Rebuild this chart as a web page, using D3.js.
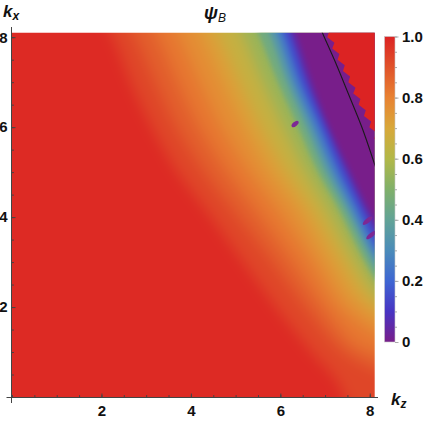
<!DOCTYPE html>
<html>
<head>
<meta charset="utf-8">
<script src="https://cdn.jsdelivr.net/npm/d3@7"></script>
<style>
  body { margin: 0; background: #fff; }
  svg { display: block; }
  text { font-family: "Liberation Sans", Arial, sans-serif; }
</style>
</head>
<body>
<div id="chart"></div>
<script>
// iso-lines of psi_B, as [kz, kx] pairs (run a bit past the frame)
var levels = [0.95, 0.9, 0.85, 0.8, 0.75, 0.7, 0.6, 0.5, 0.4, 0.3, 0.2, 0.1, 0];
var iso95 = [[1.8,8.6],[2.2,8.1],[2.65,7.0],[3.1,6.05],[3.7,5.0],[4.3,4.2],[5.1,3.1],[5.9,2.0],[6.7,1.0],[7.3,0.3],[7.6,-0.5]];
var iso90 = [[2.35,8.6],[2.7,8.1],[3.2,7.0],[3.65,6.05],[4.3,5.0],[4.9,4.2],[5.75,3.1],[6.55,2.0],[7.4,1.0],[8.11,0.6],[8.6,0.4]];
var iso85 = [[2.85,8.6],[3.2,8.1],[3.7,7.0],[4.15,6.05],[4.8,5.0],[5.4,4.2],[6.2,3.1],[6.95,2.0],[7.65,1.15],[8.11,0.95],[8.6,0.75]];
var iso80 = [[3.4,8.6],[3.7,8.1],[4.2,7.0],[4.65,6.05],[5.3,5.0],[5.9,4.2],[6.65,3.1],[7.3,2.05],[7.8,1.6],[8.11,1.4],[8.6,1.1]];
var iso75 = [[3.9,8.6],[4.2,8.1],[4.7,7.0],[5.15,6.05],[5.75,5.0],[6.35,4.2],[7.0,3.1],[7.6,2.15],[8.11,1.75],[8.6,1.4]];
var iso70 = [[4.3,8.6],[4.6,8.1],[5.1,7.0],[5.55,6.05],[6.15,5.0],[6.7,4.2],[7.35,3.1],[7.85,2.3],[8.11,2.05],[8.6,1.6]];
var iso60 = [[4.88,8.6],[5.15,8.1],[5.62,7.0],[6.07,6.05],[6.6,5.0],[7.08,4.2],[7.62,3.2],[8.11,2.4],[8.6,1.8]];
var iso50 = [[5.25,8.6],[5.5,8.1],[5.95,7.0],[6.38,6.05],[6.85,5.0],[7.3,4.2],[7.8,3.2],[8.11,2.65],[8.6,2.0]];
var iso40 = [[5.5,8.6],[5.75,8.1],[6.15,7.0],[6.57,6.05],[7.02,5.0],[7.45,4.2],[7.9,3.3],[8.11,2.9],[8.6,2.2]];
var iso30 = [[5.7,8.6],[5.92,8.1],[6.3,7.0],[6.72,6.05],[7.17,5.0],[7.58,4.2],[8.11,3.15],[8.6,2.5]];
var iso20 = [[5.85,8.6],[6.07,8.1],[6.45,7.0],[6.87,6.05],[7.32,5.0],[7.72,4.2],[8.11,3.4],[8.6,2.7]];
var iso10 = [[6.0,8.6],[6.22,8.1],[6.6,7.0],[7.0,6.05],[7.47,5.0],[7.86,4.2],[8.11,3.72],[8.6,3.0]];
var iso00 = [[6.13,8.6],[6.35,8.1],[6.72,7.0],[7.09,6.05],[7.58,5.0],[7.97,4.2],[8.11,3.95],[8.6,3.2]];
var isoLines = [iso95, iso90, iso85, iso80, iso75, iso70, iso60, iso50, iso40, iso30, iso20, iso10, iso00];

// where psi_B jumps back to 1 (top right corner): tooth tips and notches of the jagged edge
var redEdge = [[6.81,8.5],[6.97,8.375],[6.93,8.25],[7.09,8.125],[7.05,8.0],[7.21,7.875],[7.16,7.75],[7.32,7.625],
               [7.28,7.5],[7.44,7.375],[7.4,7.25],[7.56,7.125],[7.52,7.0],[7.68,6.875],[7.63,6.75],[7.79,6.625],
               [7.75,6.5],[7.91,6.375],[7.87,6.25],[8.03,6.125],[7.99,6.0],[8.15,5.875],[8.1,5.75],[8.26,5.625],[8.22,5.5]];
var blackCurve = [[6.88,8.25],[6.94,8.1],[7.22,7.47],[7.53,6.72],[7.83,5.98],[8.11,5.17],[8.2,4.9]];
var blobs = [[6.33,6.07],[7.95,3.92],[8.03,3.6]];

var xTicks = [2, 4, 6, 8];
var yTicks = [2, 4, 6, 8];
var minorTicks = d3.range(0, 8.01, 0.5);
var barTicks = [0, 0.2, 0.4, 0.6, 0.8, 1];
var barLabels = ["0", "0.2", "0.4", "0.6", "0.8", "1.0"];

var width = 432, height = 421;

var x = d3.scaleLinear().domain([0, 8.11]).range([12, 374.7]);
var y = d3.scaleLinear().domain([0, 8.1]).range([397, 32.7]);

// Mathematica-like "Rainbow"
var color = d3.scaleLinear()
    .domain([0, 0.1, 0.2, 0.3, 0.4, 0.5, 0.6, 0.7, 0.8, 0.9, 1])
    .range(["rgb(120,30,138)", "rgb(72,52,195)", "rgb(62,102,210)", "rgb(75,140,185)",
            "rgb(98,163,150)", "rgb(128,176,106)", "rgb(178,184,72)", "rgb(216,168,58)",
            "rgb(232,130,50)", "rgb(224,82,42)", "rgb(220,35,35)"]);

var svg = d3.select("#chart").append("svg")
    .attr("width", width)
    .attr("height", height);

var defs = svg.append("defs");
defs.append("clipPath").attr("id", "plotClip")
  .append("rect")
    .attr("x", x(0)).attr("y", y(8.1))
    .attr("width", x(8.11) - x(0)).attr("height", y(0) - y(8.1));
[["softWarm", 7], ["softCool", 2.5]].forEach(function(f) {
  defs.append("filter").attr("id", f[0])
      .attr("x", "-10%").attr("y", "-10%").attr("width", "120%").attr("height", "120%")
      .attr("color-interpolation-filters", "sRGB")
    .append("feGaussianBlur").attr("stdDeviation", f[1]);
});

var line = d3.line()
    .x(function(d) { return x(d[0]); })
    .y(function(d) { return y(d[1]); })
    .curve(d3.curveCatmullRom);

var field = svg.append("g").attr("clip-path", "url(#plotClip)");
var warm = field.append("g").attr("filter", "url(#softWarm)");
var cool = field.append("g").attr("filter", "url(#softCool)");

warm.append("rect")
    .attr("x", x(-1)).attr("y", y(10))
    .attr("width", x(10) - x(-1)).attr("height", y(-1) - y(10))
    .attr("fill", color(0.985));

isoLines.forEach(function(pts, i) {
  var lo = i < levels.length - 1 ? levels[i + 1] : levels[i];
  var v = (levels[i] + lo) / 2;
  (levels[i] > 0.55 ? warm : cool).append("path")
      .attr("d", line(pts) + "L" + x(10) + "," + y(-1) + "L" + x(10) + "," + y(10) + "Z")
      .attr("fill", color(v));
});

var edgeLine = d3.line()
    .x(function(d) { return x(d[0]); })
    .y(function(d) { return y(d[1]); });
var last = redEdge[redEdge.length - 1];
field.append("path")
    .attr("d", edgeLine(redEdge) + "L" + x(10) + "," + y(last[1]) + "L" + x(10) + "," + y(10) +
               "L" + x(redEdge[0][0]) + "," + y(10) + "Z")
    .attr("fill", color(1));

field.selectAll("ellipse.blob")
  .data(blobs)
  .enter().append("ellipse")
    .attr("class", "blob")
    .attr("cx", function(d) { return x(d[0]); })
    .attr("cy", function(d) { return y(d[1]); })
    .attr("rx", function(d, i) { return i == 0 ? 4.2 : 6; })
    .attr("ry", 2.2)
    .attr("transform", function(d) { return "rotate(-40," + x(d[0]) + "," + y(d[1]) + ")"; })
    .attr("fill", "rgb(125,40,148)");

field.append("path")
    .attr("d", line(blackCurve))
    .attr("fill", "none")
    .attr("stroke", "#1a1a1a")
    .attr("stroke-width", 1.1);

// axes
var axisColor = "#444";
svg.append("line")
    .attr("x1", 6.5).attr("x2", 378).attr("y1", y(0) + 0.5).attr("y2", y(0) + 0.5)
    .attr("stroke", axisColor);
svg.append("line")
    .attr("x1", x(0) - 0.5).attr("x2", x(0) - 0.5).attr("y1", 27).attr("y2", 403)
    .attr("stroke", axisColor);

var gx = svg.append("g").attr("transform", "translate(0," + (y(0) + 0.5) + ")");
gx.call(d3.axisBottom(x).tickValues(minorTicks).tickSize(-2.4).tickSizeOuter(0).tickFormat(""));
var gx2 = svg.append("g").attr("transform", "translate(0," + (y(0) + 0.5) + ")");
gx2.call(d3.axisBottom(x).tickValues(xTicks).tickSize(-4).tickSizeOuter(0).tickPadding(8).tickFormat(d3.format("d")));

var gy = svg.append("g").attr("transform", "translate(" + (x(0) - 0.5) + ",0)");
gy.call(d3.axisLeft(y).tickValues(minorTicks).tickSize(-2.4).tickSizeOuter(0).tickFormat(""));
var gy2 = svg.append("g").attr("transform", "translate(" + (x(0) - 0.5) + ",0)");
gy2.call(d3.axisLeft(y).tickValues(yTicks).tickSize(-4).tickSizeOuter(0).tickPadding(4).tickFormat(d3.format("d")));

[gx, gx2, gy, gy2].forEach(function(g) {
  g.select(".domain").remove();
  g.selectAll("line").attr("stroke", axisColor);
  g.selectAll("text").attr("font-size", 15).attr("font-weight", "bold")
    .attr("fill", "#111").attr("font-family", "Liberation Sans, Arial, sans-serif");
});
svg.append("line")
    .attr("x1", x(0) - 0.5).attr("x2", x(0) - 0.5).attr("y1", y(0)).attr("y2", y(0) + 6)
    .attr("stroke", axisColor);

// axis labels and title
var kx = svg.append("text").attr("x", 3).attr("y", 17)
    .attr("font-weight", "bold").attr("font-style", "italic").attr("fill", "#111");
kx.append("tspan").attr("font-size", 17).text("k");
kx.append("tspan").attr("font-size", 12).attr("dy", 3).text("x");

var kz = svg.append("text").attr("x", 391).attr("y", 405)
    .attr("font-weight", "bold").attr("font-style", "italic").attr("fill", "#111");
kz.append("tspan").attr("font-size", 17).text("k");
kz.append("tspan").attr("font-size", 12).attr("dy", 3).text("z");

var title = svg.append("text").attr("x", 204).attr("y", 19)
    .attr("font-style", "italic").attr("fill", "#111");
title.append("tspan").attr("font-size", 18).attr("font-weight", "bold").text("ψ");
title.append("tspan").attr("font-size", 12).attr("dy", 3).text("B");

// colour bar
var cy = d3.scaleLinear().domain([0, 1]).range([342, 36.5]);
var grad = defs.append("linearGradient").attr("id", "barGrad")
    .attr("x1", 0).attr("y1", 1).attr("x2", 0).attr("y2", 0);
grad.selectAll("stop")
  .data(color.domain())
  .enter().append("stop")
    .attr("offset", function(d) { return d; })
    .attr("stop-color", function(d) { return color(d); });

svg.append("rect")
    .attr("x", 384.5).attr("y", cy(1))
    .attr("width", 10.5).attr("height", cy(0) - cy(1))
    .attr("fill", "url(#barGrad)")
    .attr("stroke", "#c8c8c8").attr("stroke-width", 0.6);

var gb = svg.append("g").attr("transform", "translate(395,0)");
gb.call(d3.axisRight(cy).tickValues(d3.range(0, 1.001, 0.05)).tickSize(2).tickSizeOuter(0).tickFormat(""));
var gb2 = svg.append("g").attr("transform", "translate(395,0)");
gb2.call(d3.axisRight(cy).tickValues(barTicks).tickSize(3.5).tickSizeOuter(0).tickPadding(3.5)
    .tickFormat(function(d, i) { return barLabels[i]; }));
[gb, gb2].forEach(function(g) {
  g.select(".domain").remove();
  g.selectAll("line").attr("stroke", "#aaa");
  g.selectAll("text").attr("font-size", 15).attr("font-weight", "bold")
    .attr("fill", "#111").attr("font-family", "Liberation Sans, Arial, sans-serif");
});
</script>
</body>
</html>
